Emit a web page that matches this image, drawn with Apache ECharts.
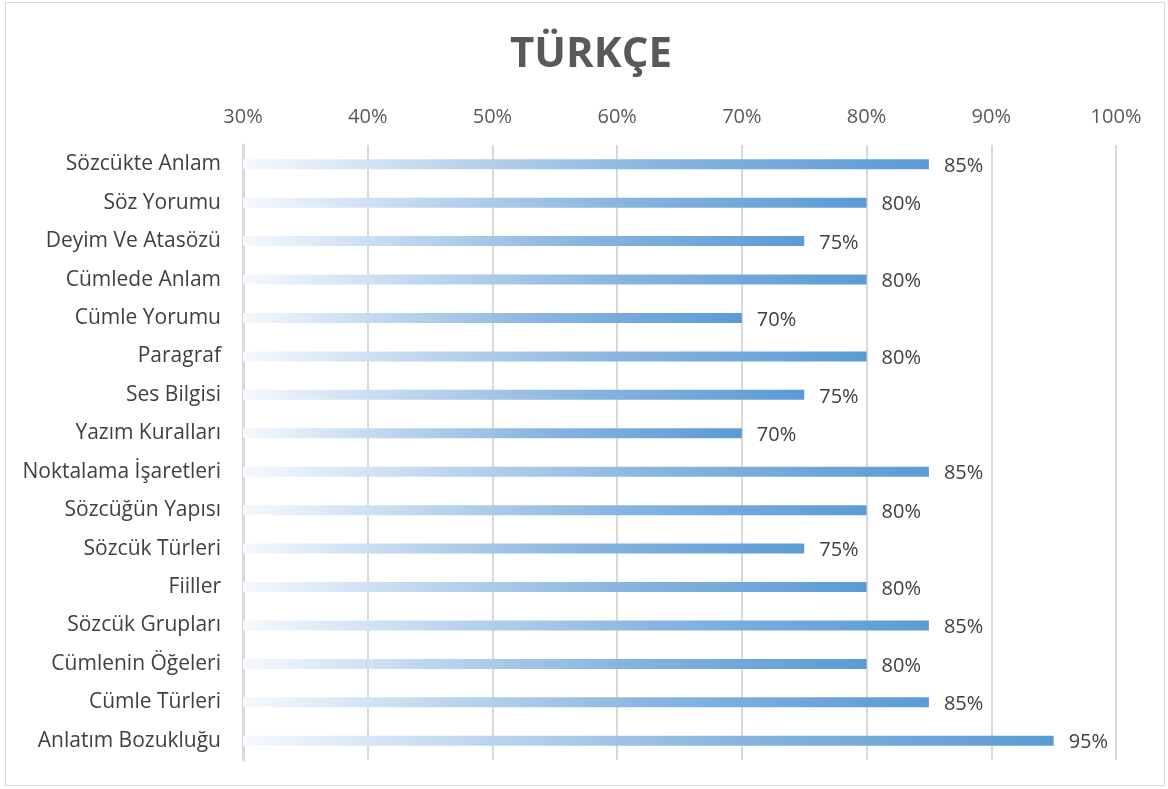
<!DOCTYPE html>
<html>
<head>
<meta charset="utf-8">
<script src="https://cdn.jsdelivr.net/npm/echarts@6/dist/echarts.min.js"></script>
<style>
  html, body { margin: 0; padding: 0; background: #fff; }
  #main { width: 1168px; height: 789px; }
  #frame { position: absolute; left: 5px; top: 2px; width: 1160px; height: 784px; border: 1px solid #d9d9d9; box-sizing: border-box; pointer-events: none; }
</style>
</head>
<body>
<div id="main"></div>
<div id="frame"></div>
<script>
// konular ve basari yuzdeleri (yukaridan asagiya)
var topics = ['Sözcükte Anlam', 'Söz Yorumu', 'Deyim Ve Atasözü', 'Cümlede Anlam', 'Cümle Yorumu',
  'Paragraf', 'Ses Bilgisi', 'Yazım Kuralları', 'Noktalama İşaretleri', 'Sözcüğün Yapısı',
  'Sözcük Türleri', 'Fiiller', 'Sözcük Grupları', 'Cümlenin Öğeleri', 'Cümle Türleri', 'Anlatım Bozukluğu'];
var scores = [85, 80, 75, 80, 70, 80, 75, 70, 85, 80, 75, 80, 85, 80, 85, 95];
var xTicks = [30, 40, 50, 60, 70, 80, 90, 100];

var font = '"Open Sans", "Noto Sans", sans-serif';
var chart = echarts.init(document.getElementById('main'));
chart.setOption({
  title: {
    text: 'TÜRKÇE',
    left: 505,
    top: 29,
    textStyle: { fontFamily: font, fontSize: 42, fontWeight: 'bold', color: '#595959' }
  },
  grid: { left: 243, right: 52, top: 145, bottom: 29 },
  xAxis: {
    type: 'value',
    position: 'top',
    min: xTicks[0],
    max: xTicks[xTicks.length - 1],
    interval: 10,
    axisLine: { show: false },
    axisTick: { show: false },
    axisLabel: { formatter: '{value}%', fontFamily: font, fontSize: 20, color: '#595959', margin: 18 },
    splitLine: { lineStyle: { color: '#d9d9d9', width: 2 } }
  },
  yAxis: {
    type: 'category',
    inverse: true,
    data: topics,
    axisLine: { show: true, lineStyle: { color: '#d9d9d9', width: 3 } },
    axisTick: { show: false },
    axisLabel: { fontFamily: font, fontSize: 21, color: '#404040', margin: 22 }
  },
  series: [{
    type: 'bar',
    data: scores,
    barWidth: 10,
    itemStyle: {
      color: new echarts.graphic.LinearGradient(0, 0, 1, 0, [
        { offset: 0, color: '#f6f9fd' },
        { offset: 0.3, color: '#bcd5ee' },
        { offset: 0.6, color: '#88b5e0' },
        { offset: 1, color: '#5b9bd5' }
      ])
    },
    label: {
      show: true,
      position: 'right',
      distance: 15,
      formatter: '{c}%',
      fontFamily: font,
      fontSize: 20,
      color: '#404040',
      offset: [0, 2]
    }
  }]
});
</script>
</body>
</html>
